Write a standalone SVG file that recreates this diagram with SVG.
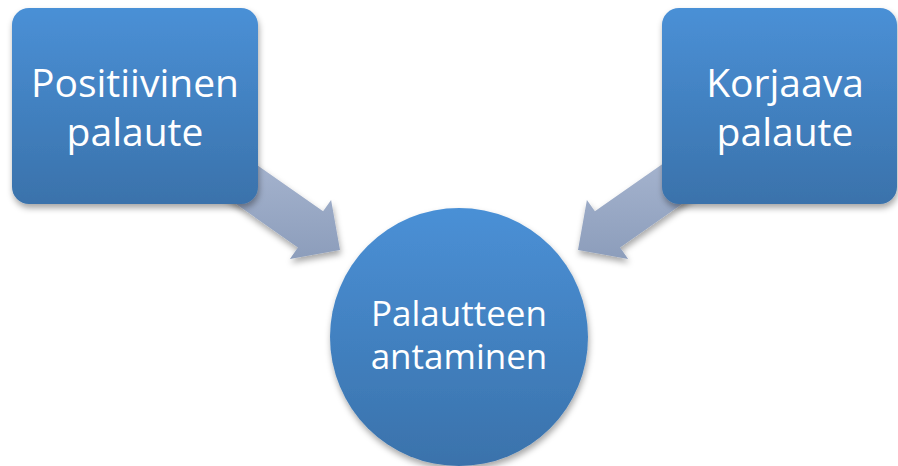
<svg xmlns="http://www.w3.org/2000/svg" width="898" height="466" viewBox="0 0 898 466">
<defs>
<linearGradient id="blue" x1="0" y1="0" x2="0" y2="1">
<stop offset="0" stop-color="#4a90d6"/>
<stop offset="1" stop-color="#3a72ab"/>
</linearGradient>
<linearGradient id="arrowGrad" gradientUnits="userSpaceOnUse" x1="0" y1="140" x2="0" y2="260">
<stop offset="0" stop-color="#aab8d2"/>
<stop offset="1" stop-color="#8c9dbb"/>
</linearGradient>
<filter id="shadow" x="-10%" y="-10%" width="125%" height="130%">
<feDropShadow dx="1" dy="4" stdDeviation="3" flood-color="#000" flood-opacity="0.35"/>
</filter>
</defs>
<style>
.node { fill: url(#blue); filter: url(#shadow); }
.arrow { fill: url(#arrowGrad); filter: url(#shadow); }
.label { font-family: "Open Sans", "Liberation Sans", sans-serif; fill: #ffffff; text-anchor: middle; }
.big { font-size: 39px; }
.mid { font-size: 35px; }
</style>
<rect width="898" height="466" fill="#ffffff"/>
<g id="connectors">
<polygon class="arrow" points="221.5,140.2 323.1,211.3 331.1,199.9 340,250 289.9,258.9 297.9,247.4 196.3,176.2"/>
<polygon class="arrow" points="696.5,140.2 594.9,211.3 586.9,199.9 578,250 628.1,258.9 620.1,247.4 721.7,176.2"/>
</g>
<g id="node-positiivinen">
<rect class="node" x="12" y="8" width="246" height="196" rx="17"/>
<text class="label big" x="135" y="97">Positiivinen</text>
<text class="label big" x="135" y="146">palaute</text>
</g>
<g id="node-korjaava">
<rect class="node" x="662" y="8" width="235" height="196" rx="17"/>
<text class="label big" x="785" y="97">Korjaava</text>
<text class="label big" x="785" y="146">palaute</text>
</g>
<g id="node-palautteen">
<circle class="node" cx="459" cy="337" r="129"/>
<text class="label mid" x="459" y="326">Palautteen</text>
<text class="label mid" x="459" y="369">antaminen</text>
</g>
</svg>
